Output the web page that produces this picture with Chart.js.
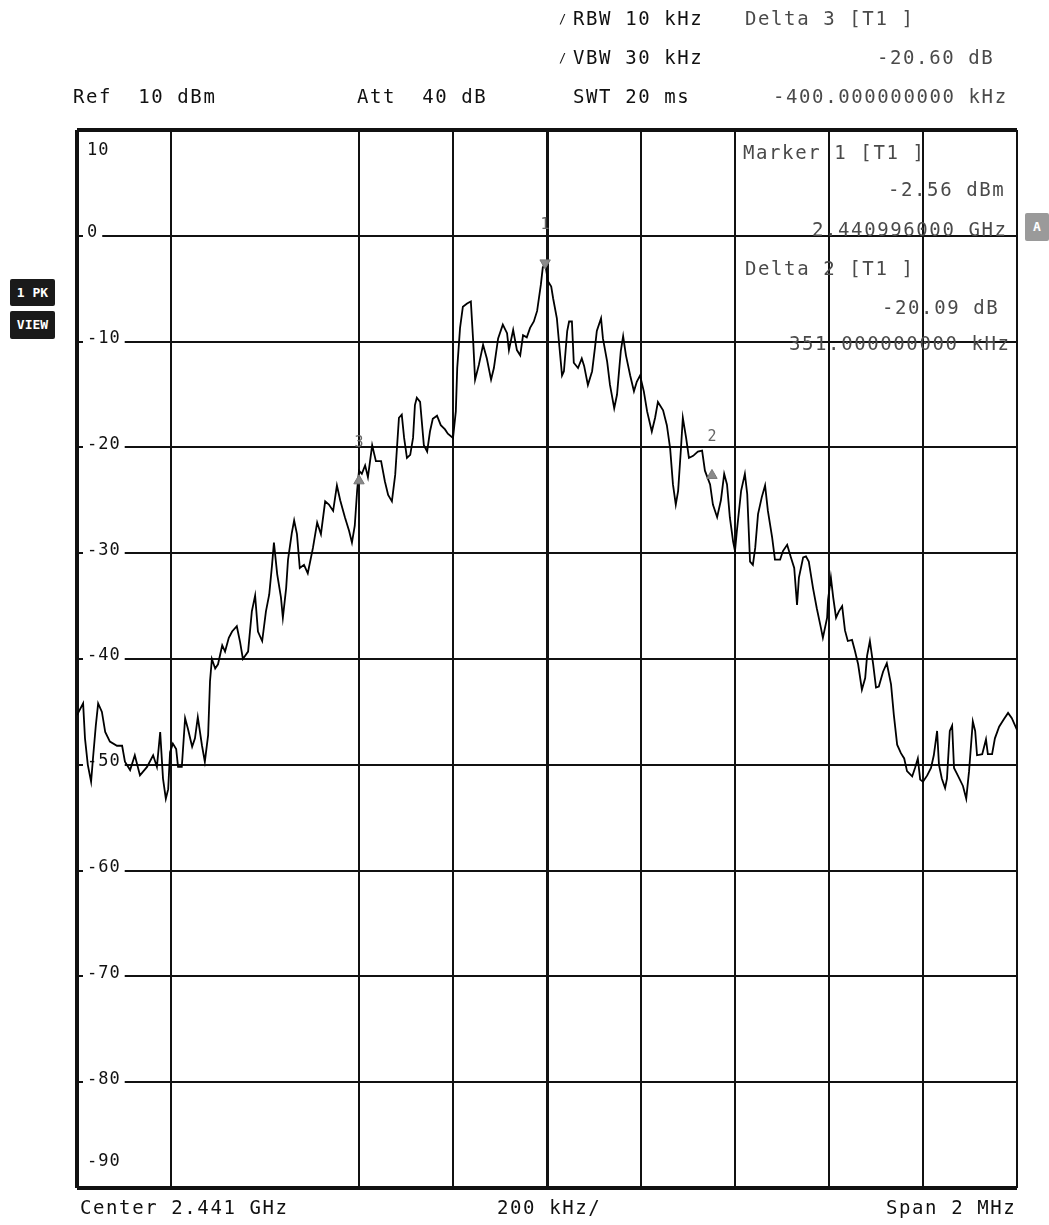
<!DOCTYPE html>
<html>
<head>
<meta charset="utf-8">
<title>Spectrum plot</title>
<script src="https://cdn.jsdelivr.net/npm/chart.js@4.4.1/dist/chart.umd.min.js"></script>
<style>
  body { margin: 0; background: #fff; }
  #wrap { position: relative; width: 1049px; height: 1225px; overflow: hidden; }
  #spec { position: absolute; left: 0; top: 0; }
  .t { position: absolute; font-family: "DejaVu Sans Mono", monospace; font-size: 19px; line-height: 22px;
       letter-spacing: 1.6px; white-space: pre; color: #111; }
  .g { color: #4a4a4a; }
  .box { position: absolute; font-family: "DejaVu Sans Mono", monospace; font-size: 13px; font-weight: bold;
         color: #fff; background: #1a1a1a; white-space: pre; text-align: center; border-radius: 2px; }
</style>
</head>
<body>
<div id="wrap">
  <canvas id="spec" width="1049" height="1225"></canvas>

  <!-- header -->
  <div class="t" style="left:559px;top:8px;font-size:12px;">/</div>
  <div class="t" style="left:559px;top:47px;font-size:12px;">/</div>
  <div class="t" style="left:573px;top:7px;">RBW 10 kHz</div>
  <div class="t" style="left:573px;top:46px;">VBW 30 kHz</div>
  <div class="t" style="left:573px;top:85px;">SWT 20 ms</div>
  <div class="t g" style="left:745px;top:7px;">Delta 3 [T1 ]</div>
  <div class="t g" style="left:877px;top:46px;">-20.60 dB</div>
  <div class="t g" style="left:773px;top:85px;">-400.000000000 kHz</div>
  <div class="t" style="left:73px;top:85px;">Ref  10 dBm</div>
  <div class="t" style="left:357px;top:85px;">Att  40 dB</div>

  <!-- marker readout inside the grid -->
  <div class="t g" style="left:743px;top:141px;">Marker 1 [T1 ]</div>
  <div class="t g" style="left:888px;top:178px;">-2.56 dBm</div>
  <div class="t g" style="left:812px;top:218px;">2.440996000 GHz</div>
  <div class="t g" style="left:745px;top:257px;">Delta 2 [T1 ]</div>
  <div class="t g" style="left:882px;top:296px;">-20.09 dB</div>
  <div class="t g" style="left:789px;top:332px;">351.000000000 kHz</div>

  <!-- footer -->
  <div class="t" style="left:80px;top:1196px;">Center 2.441 GHz</div>
  <div class="t" style="left:497px;top:1196px;">200 kHz/</div>
  <div class="t" style="left:886px;top:1196px;">Span 2 MHz</div>

  <!-- side boxes -->
  <div class="box" style="left:10px;top:279px;width:45px;height:27px;line-height:27px;">1 PK</div>
  <div class="box" style="left:10px;top:311px;width:45px;height:28px;line-height:28px;">VIEW</div>
  <div class="box" style="left:1025px;top:213px;width:24px;height:28px;line-height:28px;background:#9a9a9a;">A</div>
</div>

<script>
// trace: frequency offset from centre (kHz) and level (dBm)
const freqKHz = [
  -1000,-987,-983,-977,-970,-966,-960,-955,-947,-940,
  -930,-915,-904,-898,-887,-877,-866,-851,-838,-830,
  -823,-817,-811,-806,-802,-796,-789,-785,-777,-770,
  -764,-755,-749,-743,-734,-728,-721,-717,-713,-706,
  -700,-691,-685,-677,-670,-660,-653,-647,-636,-628,
  -621,-615,-606,-598,-591,-585,-581,-574,-566,-562,
  -555,-551,-543,-538,-532,-526,-517,-509,-498,-489,
  -481,-472,-464,-455,-447,-440,-430,-421,-415,-409,
  -404,-400,-394,-387,-381,-372,-364,-353,-345,-338,
  -330,-323,-315,-309,-304,-298,-291,-285,-281,-277,
  -270,-262,-255,-249,-243,-234,-226,-217,-211,-200,
  -194,-191,-185,-179,-170,-162,-157,-153,-145,-136,
  -128,-119,-113,-104,-94,-85,-81,-72,-64,-57,
  -51,-43,-36,-28,-21,-13,-9,-4,2,9,
  13,21,26,32,36,43,47,53,57,66,
  74,79,87,96,102,106,115,119,128,134,
  143,149,157,162,168,177,185,191,198,206,
  213,223,230,236,247,255,262,268,274,279,
  285,289,296,302,311,321,330,336,347,353,
  362,370,377,383,389,396,400,404,413,421,
  426,432,438,443,449,457,464,470,479,485,
  496,502,511,519,526,532,536,545,551,557,
  566,574,583,587,596,598,604,609,615,621,
  628,634,640,649,655,662,670,677,681,687,
  694,700,706,715,723,732,738,745,753,760,
  766,777,783,789,794,800,809,817,823,830,
  834,840,847,851,857,862,866,874,885,892,
  898,906,911,915,926,934,938,947,953,962,
  972,981,989,1000
];
const levelDbm = [
  -45.3,-44.2,-47.5,-50,-51.6,-49.4,-46.3,-44.2,-45,-46.9,
  -47.8,-48.2,-48.2,-49.7,-50.5,-49.1,-51,-50.2,-49.1,-50.2,
  -46.9,-51.3,-53.2,-52.3,-48.8,-48,-48.5,-50.2,-50.2,-45.6,
  -46.6,-48.3,-47.5,-45.5,-48.2,-49.7,-47.2,-42.1,-40,-40.9,
  -40.5,-38.7,-39.3,-38,-37.4,-36.9,-38.4,-40,-39.3,-35.5,
  -34,-37.4,-38.3,-35.5,-33.9,-31.1,-29,-32,-34.2,-36.1,
  -33.3,-30.6,-28.1,-26.9,-28.2,-31.4,-31.1,-31.9,-29.5,-27.1,
  -28.2,-25.1,-25.4,-26,-23.6,-25,-26.6,-27.9,-29,-27.4,
  -24.1,-22.2,-22.5,-21.7,-22.8,-19.8,-21.3,-21.3,-23.2,-24.5,
  -25.1,-22.6,-17.2,-16.9,-19.1,-21,-20.7,-19.1,-16,-15.3,
  -15.7,-19.8,-20.4,-18.5,-17.3,-17,-17.9,-18.3,-18.7,-19.1,
  -16.6,-12.5,-8.7,-6.7,-6.4,-6.2,-10,-13.6,-12.2,-10.3,
  -11.6,-13.6,-12.5,-9.7,-8.4,-9.2,-10.8,-8.9,-10.8,-11.3,
  -9.4,-9.6,-8.7,-8.1,-7.1,-4.6,-3,-2.56,-4.3,-4.8,
  -5.9,-7.8,-10.3,-13.2,-12.8,-9,-8.1,-8.1,-12,-12.5,
  -11.6,-12.3,-14.1,-12.8,-10.6,-9,-7.8,-9.7,-11.9,-14.1,
  -16.3,-15,-10.9,-9.5,-11.3,-13.2,-14.7,-13.8,-13.2,-14.7,
  -16.6,-18.5,-17.2,-15.7,-16.5,-17.9,-20.1,-23.5,-25.4,-24.1,
  -20.1,-17.2,-19.1,-21,-20.8,-20.4,-20.3,-22.2,-23.5,-25.4,
  -26.6,-25,-22.5,-23.5,-26.6,-28.9,-29.8,-27.9,-24.1,-22.5,
  -24.4,-30.8,-31.1,-29.5,-26.3,-24.7,-23.6,-26,-28.5,-30.6,
  -30.6,-29.8,-29.2,-30.4,-31.4,-34.9,-32.3,-30.4,-30.3,-30.8,
  -33.3,-35.2,-37.1,-38,-36.1,-34.4,-32.3,-34.2,-36.1,-35.5,
  -35,-37.3,-38.3,-38.2,-39.2,-40.5,-42.9,-41.8,-39.7,-38.3,
  -40.5,-42.7,-42.6,-41.2,-40.4,-42.4,-45.3,-48.1,-48.9,-49.4,
  -50.6,-51.1,-50.3,-49.4,-51.4,-51.6,-51,-50.3,-49.1,-46.8,
  -50,-51.3,-52.2,-51.3,-46.8,-46.3,-50.3,-51,-52,-53.2,
  -50.6,-45.9,-46.8,-49.1,-49,-47.6,-49,-49,-47.5,-46.4,
  -45.7,-45.1,-45.6,-46.7
];

// markers 1, 2 (delta) and 3 (delta)
const markerNames = ['1', '2', '3'];
const markerFreqKHz = [-4, 351, -400];
const markerLevelDbm = [-2.56, -22.65, -23.16];

// axis ticks
const yTickValues = [10, 0, -10, -20, -30, -40, -50, -60, -70, -80, -90];
const xMin = -1000, xMax = 1000, xStep = 200;

const trace = freqKHz.map((f, i) => ({ x: f, y: levelDbm[i] }));
const markers = markerFreqKHz.map((f, i) => ({ x: f, y: markerLevelDbm[i] }));

// y labels sit inside the grid, on top of the lines
const yLabels = {
  id: 'yLabels',
  beforeDatasetsDraw(chart) {
    const { ctx, chartArea, scales: { y } } = chart;
    ctx.save();
    ctx.font = '17px "DejaVu Sans Mono"';
    ctx.letterSpacing = '1px';
    ctx.textBaseline = 'middle';
    yTickValues.forEach(v => {
      let py = y.getPixelForValue(v) - 3;
      if (v === 10) py = chartArea.top + 21;
      if (v === -90) py = chartArea.bottom - 26;
      const label = String(v);
      const w = ctx.measureText(label).width;
      const x0 = chartArea.left + 10;
      if (v < 10 && v > -90) {
        ctx.fillStyle = '#fff';
        ctx.fillRect(x0 - 4, py - 8, w + 8, 16);
      }
      ctx.fillStyle = '#111';
      ctx.fillText(label, x0, py);
    });
    ctx.restore();
  }
};

// marker numbers above the triangles
const markerLabels = {
  id: 'markerLabels',
  afterDatasetsDraw(chart) {
    const { ctx, scales: { x, y } } = chart;
    ctx.save();
    ctx.font = '15px "DejaVu Sans Mono"';
    ctx.fillStyle = '#666';
    ctx.textAlign = 'center';
    ctx.textBaseline = 'middle';
    markers.forEach((m, i) => {
      ctx.fillText(markerNames[i], x.getPixelForValue(m.x), y.getPixelForValue(m.y) - 38);
    });
    ctx.restore();
  }
};

new Chart(document.getElementById('spec'), {
  type: 'line',
  data: {
    datasets: [
      {
        data: markers,
        type: 'scatter',
        pointStyle: 'triangle',
        pointRotation: [180, 0, 0],
        pointRadius: 6,
        backgroundColor: '#8a8a8a',
        borderColor: '#777',
        borderWidth: 1
      },
      {
        data: trace,
        borderColor: '#000',
        borderWidth: 1.8,
        pointRadius: 0,
        tension: 0,
        fill: false
      }
    ]
  },
  options: {
    responsive: false,
    animation: false,
    events: [],
    layout: { padding: { left: 77, right: 32, top: 130, bottom: 37 } },
    plugins: { legend: { display: false }, tooltip: { enabled: false } },
    scales: {
      x: {
        type: 'linear', min: xMin, max: xMax,
        ticks: { display: false, stepSize: xStep },
        border: { display: false },
        grid: {
          drawTicks: false,
          color: ctx => ctx.tick && ctx.tick.value === -600 ? 'rgba(0,0,0,0)' : '#111',
          lineWidth: ctx => {
            const v = ctx.tick ? ctx.tick.value : null;
            if (v === 0) return 3;
            if (v === xMin) return 4;
            return 2;
          }
        }
      },
      y: {
        min: -90, max: 10,
        ticks: { display: false, stepSize: 10 },
        border: { display: false },
        grid: {
          drawTicks: false,
          color: '#111',
          lineWidth: ctx => {
            const v = ctx.tick ? ctx.tick.value : null;
            return (v === 10 || v === -90) ? 4 : 2;
          }
        }
      }
    }
  },
  plugins: [yLabels, markerLabels]
});
</script>
</body>
</html>
